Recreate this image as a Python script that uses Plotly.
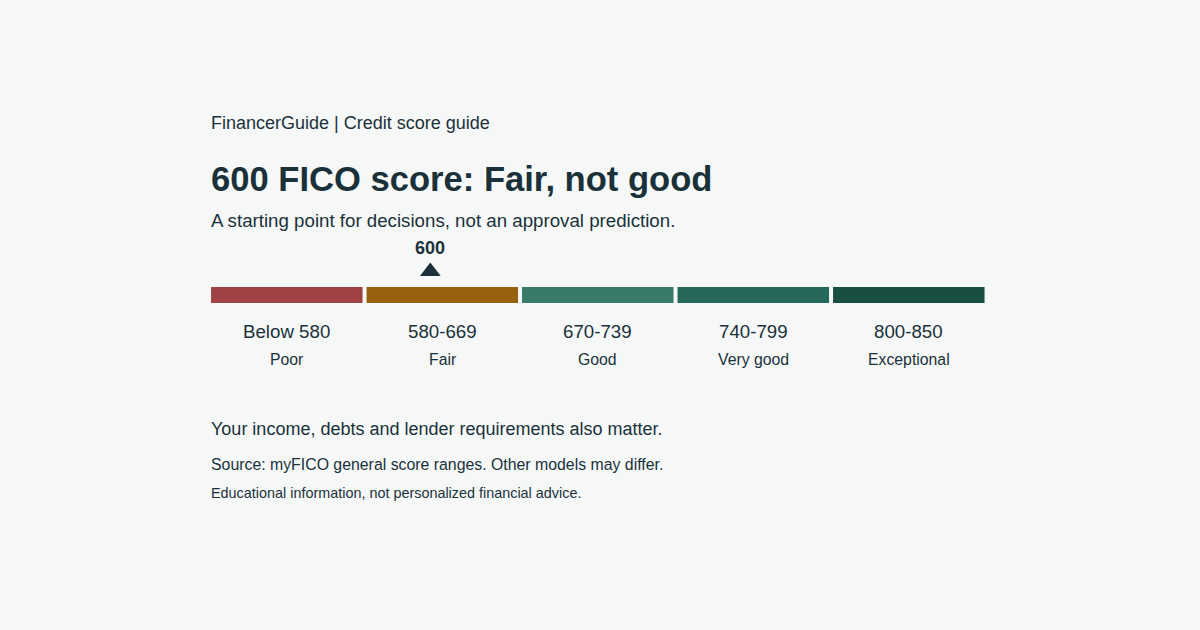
import plotly.graph_objects as go

ranges = ["Below 580", "580-669", "670-739", "740-799", "800-850"]
bands = ["Poor", "Fair", "Good", "Very good", "Exceptional"]
band_heights = [1, 1, 1, 1, 1]
band_colors = ["#9E4244", "#966210", "#3A7A68", "#26695A", "#184F42"]
band_index = [0, 1, 2, 3, 4]
marker_pos = [0.923]
marker_y = [1.97]
marker_label = "600"

W, H = 1200, 630
INK = "#1A313A"
FONT = "Liberation Sans, Arial, sans-serif"
PITCH = 155.5
C0 = 286.8
BAR_TOP, BAR_BOTTOM = 287.0, 303.0
unit = BAR_BOTTOM - BAR_TOP

x_lo = -C0 / PITCH
x_hi = x_lo + W / PITCH
y_hi = BAR_BOTTOM / unit
y_lo = -(H - BAR_BOTTOM) / unit

fig = go.Figure()
fig.add_bar(x=band_index, y=band_heights, marker=dict(color=band_colors, line=dict(width=0)),
            width=151.5 / PITCH, hoverinfo="skip", showlegend=False)
fig.add_scatter(x=marker_pos, y=marker_y, mode="markers",
                marker=dict(symbol="triangle-up", size=18, color=INK, line=dict(width=0)),
                hoverinfo="skip", showlegend=False)


def note(text, px, py, size, bold=False, anchor="left"):
    fig.add_annotation(text=f"<b>{text}</b>" if bold else text, xref="paper", yref="paper",
                       x=px / W, y=1 - py / H, xanchor=anchor, yanchor="middle", showarrow=False,
                       borderpad=0, font=dict(family=FONT, size=size, color=INK))


LEFT = 210.2
note("FinancerGuide | Credit score guide", LEFT, 123, 18)
note("600 FICO score: Fair, not good", LEFT, 179, 34.6, bold=True)
note("A starting point for decisions, not an approval prediction.", LEFT, 221, 18.7)
note(marker_label, 430.3, 248.5, 18, bold=True, anchor="center")
for i, (r, b) in enumerate(zip(ranges, bands)):
    note(r, C0 + i * PITCH, 331, 18.7, anchor="center")
    note(b, C0 + i * PITCH, 359, 15.8, anchor="center")
note("Your income, debts and lender requirements also matter.", LEFT, 429, 18)
note("Source: myFICO general score ranges. Other models may differ.", LEFT, 464, 15.85)
note("Educational information, not personalized financial advice.", LEFT, 493, 14.4)

fig.update_layout(width=W, height=H, margin=dict(l=0, r=0, t=0, b=0), paper_bgcolor="#F6F8F8",
                  plot_bgcolor="#F6F8F8", showlegend=False, font=dict(family=FONT, color=INK),
                  xaxis=dict(range=[x_lo, x_hi], visible=False, fixedrange=True),
                  yaxis=dict(range=[y_lo, y_hi], visible=False, fixedrange=True))
fig.write_html("out.html", config={"displayModeBar": False},
               post_script="document.body.style.margin='0';document.body.style.background='#F6F8F8';")
